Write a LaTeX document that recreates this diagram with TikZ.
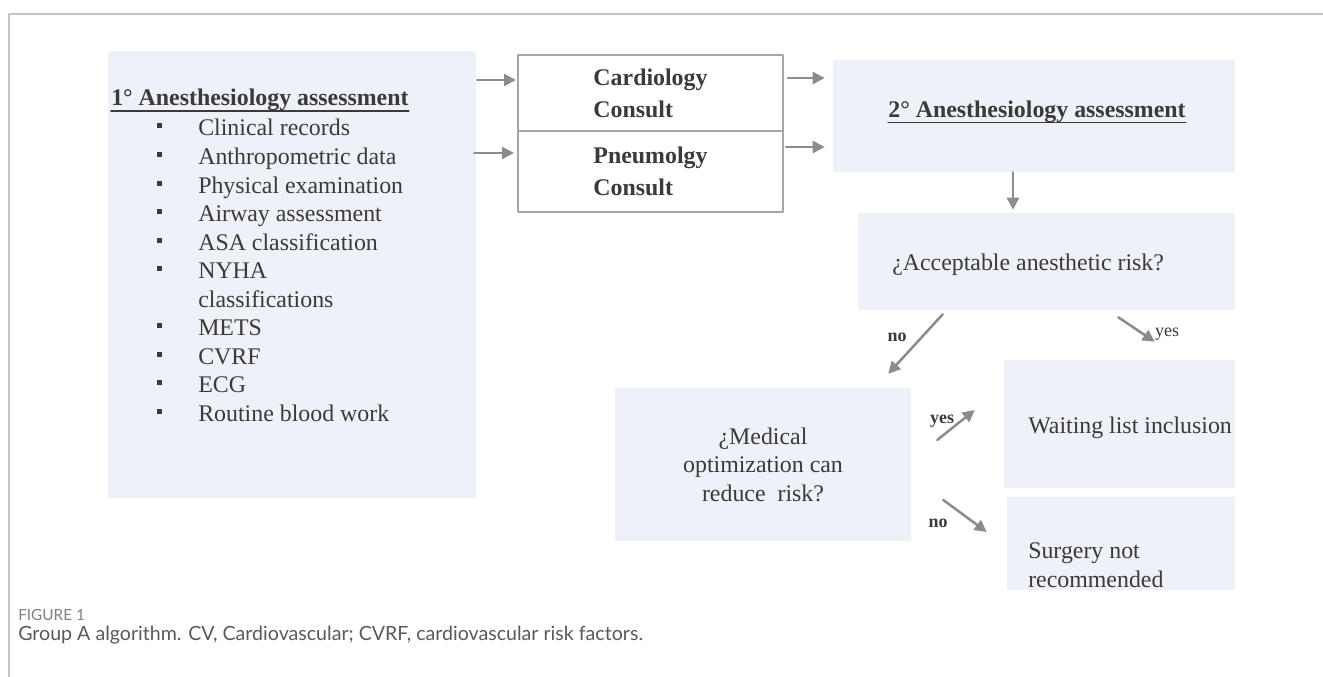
\documentclass[tikz,border=0pt]{standalone}
\usepackage{fontspec}
\setmainfont{Liberation Serif}
\newfontfamily\capfont{Lato}
\usetikzlibrary{arrows.meta,calc}
\definecolor{boxfill}{HTML}{EEF1F7}
\definecolor{arrgray}{HTML}{8C8C8C}
\definecolor{txtgray}{HTML}{3A3A3A}
\definecolor{framegray}{HTML}{C4C4C4}

\begin{document}
\begin{tikzpicture}[x=0.75pt,y=-0.75pt,line cap=round,line join=round,>={Triangle[length=9pt,width=9pt]},
  every node/.style={inner sep=0pt,text=txtgray},
  panel/.style 2 args={fill=boxfill,minimum width=#1*0.75pt,minimum height=#2*0.75pt},
  consult/.style={draw=gray!70,line width=1.5pt,fill=white,minimum width=198.75pt,align=left,font=\bfseries\fontsize{17.9}{24}\selectfont},
  txt/.style={font=\fontsize{17.9}{21.4}\selectfont},
  ttl/.style={font=\bfseries\fontsize{17.9}{21.4}\selectfont},
  lbl/.style={font=\fontsize{13.5}{16}\selectfont},
  bul/.style={fill=txtgray,minimum size=3.75pt},
  arr/.style={->,draw=arrgray,line width=1.9pt}]
  \useasboundingbox (0,0) rectangle (1323,677);
  \draw[framegray,line width=1pt] (1323,14) -- (9,14) -- (9,677);

  \node[panel={368}{447}] (box1) at (292,274.5) {};
  \node[ttl,anchor=base west] (ttl1) at (111,106) {1° Anesthesiology assessment};
  \draw[txtgray,line width=1.2pt] ([yshift=-3.7pt]ttl1.base west) -- ([yshift=-3.7pt]ttl1.base east);
  \foreach \t [count=\i from 0] in {Clinical records,Anthropometric data,Physical examination,Airway assessment,ASA classification,NYHA,classifications,METS,CVRF,ECG,Routine blood work} {
    \node[txt,anchor=base west] (it\i) at (198,136+28.55*\i) {\t};
  }
  \foreach \i in {0,...,5,7,8,9,10} {
    \node[bul] (bu\i) at (159.5,126+28.55*\i) {};
  }

  \node[consult,minimum height=57pt] (card) at (650.5,93) {Cardiology\\Consult};
  \node[consult,minimum height=60.75pt] (pneu) at (650.5,171.5) {Pneumolgy\\Consult};

  \node[panel={402}{112}] (ass2) at (1034,116) {};
  \node[ttl,anchor=base] (ttl2) at (1037,118) {2° Anesthesiology assessment};
  \draw[txtgray,line width=1.2pt] ([yshift=-3.5pt]ttl2.base west) -- ([yshift=-3.5pt]ttl2.base east);

  \node[panel={377}{97}] (risk) at (1046.5,261.5) {};
  \node[txt,anchor=base west] (risktxt) at (892,270) {¿Acceptable anesthetic risk?};

  \node[panel={296}{153},txt,align=center] (med) at (763,464.5) {¿Medical\\optimization can\\reduce\ \ risk?};

  \node[panel={231}{128}] (wait) at (1119.5,424) {};
  \node[txt,anchor=base west] (waittxt) at (1028,433) {Waiting list inclusion};

  \node[panel={228}{93}] (surg) at (1121,543.5) {};
  \node[txt,anchor=base west] (surg1) at (1028,558) {Surgery not};
  \node[txt,anchor=base west] (surg2) at (1028,587) {recommended};

  \draw[arr] ($(box1.east |- card.west)+(1,-13)$) -- ($(card.west)+(-1,-13)$);
  \draw[arr] ($(box1.east |- pneu.west)+(-2,-18.5)$) -- ($(pneu.west)+(-3,-18.5)$);
  \draw[arr] ($(card.east)+(4,-15)$) -- ($(ass2.west |- card.east)+(-8,-15)$);
  \draw[arr] ($(pneu.east)+(2,-24.5)$) -- ($(ass2.west |- pneu.east)+(-8,-24.5)$);
  \draw[arr] ($(ass2.south)+(-21,0)$) -- ($(ass2.south |- risk.north)+(-21,-3)$);
  \draw[arr] ($(risk.south west)+(85,4)$) -- ($(med.north east)+(-23,-14)$);
  \draw[arr] ($(risk.south east)+(-117,7)$) -- ($(wait.north west)+(151,-18)$);
  \draw[arr] ($(med.east)+(26,-24.5)$) -- ($(wait.west)+(-29,-14)$);
  \draw[arr] ($(med.east)+(32,35.5)$) -- ($(surg.west)+(-20,-11.5)$);

  \node[lbl,font=\bfseries\fontsize{13.5}{16}\selectfont] (no1) at (897,337) {no};
  \node[lbl] (yes1) at (1167,334) {yes};
  \node[lbl,font=\bfseries\fontsize{13.5}{16}\selectfont] (yes2) at (942,421) {yes};
  \node[lbl,font=\bfseries\fontsize{13.5}{16}\selectfont] (no2) at (938,523) {no};

  \node[anchor=base west,font=\capfont\fontsize{11.5}{13}\selectfont,text=gray] (fig) at (18,620) {FIGURE 1};
  \node[anchor=base west,font=\capfont\fontsize{14.7}{17}\selectfont,text=black!65] (cap) at (18,640) {Group A algorithm. CV, Cardiovascular; CVRF, cardiovascular risk factors.};
\end{tikzpicture}
\end{document}
